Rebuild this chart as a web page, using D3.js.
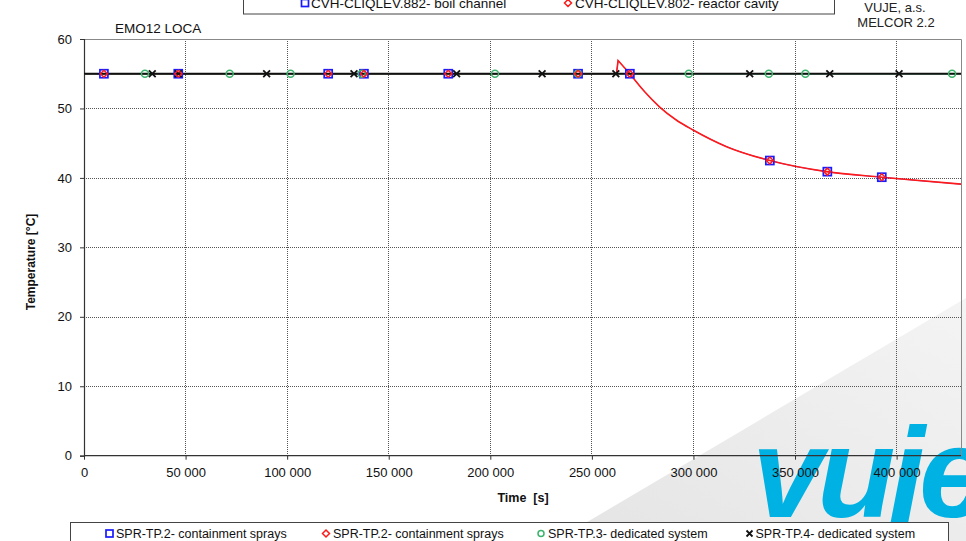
<!DOCTYPE html>
<html><head><meta charset="utf-8">
<script src="https://cdn.jsdelivr.net/npm/d3@7/dist/d3.min.js"></script>
<style>
html,body{margin:0;padding:0;background:#fff;}
svg{display:block;font-family:"Liberation Sans",Arial,Helvetica,sans-serif;}
</style></head><body>
<svg id="chart" width="966" height="541"></svg>
<script>
// ---- data -------------------------------------------------------------
const timeTicks = [0, 50000, 100000, 150000, 200000, 250000, 300000, 350000, 400000];
const tempTicks = [0, 10, 20, 30, 40, 50, 60];
const timeMax = 431700;

// SPR-TP.2 containment sprays: temperature trace [°C] over time [s]
const sprayTime = [0, 262100, 262900, 268700, 276000, 283400, 291700, 299800, 316300, 337600, 365500, 392500, 431700];
const sprayTemp = [55, 55, 56.9, 55.0, 52.4, 50.2, 48.3, 46.9, 44.5, 42.5, 40.9, 40.1, 39.1];
// marker samples of the SPR-TP.2 trace
const sprayMarkTime = [9800, 46400, 120200, 137800, 179300, 243200, 268700, 337600, 365900, 392700];
const sprayMarkTemp = [55, 55, 55, 55, 55, 55, 55, 42.5, 40.9, 40.1];

// SPR-TP.3 dedicated system
const tp3Time = [0, 431700];
const tp3Temp = [55, 55];
const tp3MarkTime = [30000, 71700, 101700, 136700, 202300, 243100, 297700, 337100, 355100, 427300];
const tp3MarkTemp = [55, 55, 55, 55, 55, 55, 55, 55, 55, 55];

// SPR-TP.4 dedicated system
const tp4Time = [0, 431700];
const tp4Temp = [55, 55];
const tp4MarkTime = [33600, 46400, 89900, 132900, 183400, 225500, 261800, 327700, 367100, 401200];
const tp4MarkTemp = [55, 55, 55, 55, 55, 55, 55, 55, 55, 55];

const topLegend = ["CVH-CLIQLEV.882- boil channel", "CVH-CLIQLEV.802- reactor cavity"];
const bottomLegend = ["SPR-TP.2- containment sprays", "SPR-TP.2- containment sprays",
                      "SPR-TP.3- dedicated system", "SPR-TP.4- dedicated system"];

// ---- layout -----------------------------------------------------------
const svg = d3.select("#chart");
const W = 966, H = 541;
const plot = {left: 84, right: 961, top: 39, bottom: 455.7};

const x = d3.scaleLinear().domain([0, timeMax]).range([plot.left, plot.right]);
const y = d3.scaleLinear().domain([0, 60]).range([plot.bottom, plot.top]);

const BLUE = "#1a1aff", RED = "#ff1a1a", GREEN = "#3cb36b", BLACK = "#111";

// ---- background sheet with corporate mark -----------------------------
const defs = svg.append("defs");
const g1 = defs.append("linearGradient").attr("id", "sheet")
  .attr("x1", "0").attr("y1", "1").attr("x2", "1").attr("y2", "0");
g1.append("stop").attr("offset", "0").attr("stop-color", "#e4e4e4");
g1.append("stop").attr("offset", "1").attr("stop-color", "#f4f4f4");
svg.append("rect").attr("width", W).attr("height", H).attr("fill", "#fff");
svg.append("path").attr("d", "M555,541 L966,298 L966,541 Z").attr("fill", "url(#sheet)");
svg.append("text").attr("x", 752).attr("y", 517)
  .attr("font-size", 128).attr("font-weight", "bold").attr("font-style", "italic")
  .attr("letter-spacing", -6).attr("fill", "#00b1e3").text("vuje");

defs.append("clipPath").attr("id", "plotClip").append("rect")
  .attr("x", plot.left).attr("y", plot.top)
  .attr("width", plot.right - plot.left).attr("height", plot.bottom - plot.top);

// ---- grid -------------------------------------------------------------
const grid = svg.append("g");
grid.selectAll("line.v").data(timeTicks.filter(t => t > 0)).join("line")
  .attr("x1", d => x(d)).attr("x2", d => x(d))
  .attr("y1", plot.top).attr("y2", plot.bottom)
  .attr("stroke", "#555").attr("stroke-width", 1).attr("stroke-dasharray", "1,1")
  .attr("shape-rendering", "crispEdges");
grid.selectAll("line.h").data(tempTicks.filter(t => t > 0 && t < 60)).join("line")
  .attr("y1", d => Math.round(y(d)) + 0.5).attr("y2", d => Math.round(y(d)) + 0.5)
  .attr("x1", plot.left).attr("x2", plot.right)
  .attr("stroke", "#555").attr("stroke-width", 1).attr("stroke-dasharray", "1,1");

// plot frame (top and right)
svg.append("path")
  .attr("d", `M${plot.left},${plot.top + 0.5} H${plot.right + 0.5} V${plot.bottom}`)
  .attr("fill", "none").attr("stroke", "#888").attr("stroke-width", 1);

// ---- axes -------------------------------------------------------------
const loc = d3.formatLocale({decimal: ".", thousands: " ", grouping: [3], currency: ["", ""]});
const fmtTime = loc.format(",");

const xAxis = svg.append("g").attr("transform", `translate(0,${plot.bottom})`)
  .call(d3.axisBottom(x).tickValues(timeTicks).tickFormat(fmtTime).tickSizeOuter(0).tickSize(4).tickPadding(8));
const yAxis = svg.append("g").attr("transform", `translate(${plot.left},0)`)
  .call(d3.axisLeft(y).tickValues(tempTicks).tickSizeOuter(0).tickSize(4).tickPadding(8));
[xAxis, yAxis].forEach(a => {
  a.select(".domain").attr("stroke", "#333").attr("stroke-width", 1.2);
  a.selectAll(".tick line").attr("stroke", "#333");
  a.selectAll(".tick text").attr("font-size", 13).attr("fill", "#111")
    .attr("font-family", "'Liberation Sans',Arial,sans-serif");
});
// x axis runs the full plot width
xAxis.select(".domain").attr("d", `M${plot.left},0H${plot.right}`);

svg.append("text").attr("x", 523).attr("y", 502).attr("text-anchor", "middle")
  .attr("font-size", 12.5).attr("font-weight", "bold").attr("fill", "#111")
  .style("white-space", "pre").text("Time  [s]");
svg.append("text").attr("transform", "translate(35,262) rotate(-90)").attr("text-anchor", "middle")
  .attr("font-size", 12).attr("font-weight", "bold").attr("fill", "#111")
  .text("Temperature [°C]");

svg.append("text").attr("x", 115).attr("y", 33).attr("font-size", 13.5).attr("fill", "#111").text("EMO12 LOCA");
svg.append("text").attr("x", 895).attr("y", 12).attr("text-anchor", "middle").attr("font-size", 13).attr("fill", "#222").text("VUJE, a.s.");
svg.append("text").attr("x", 896).attr("y", 27).attr("text-anchor", "middle").attr("font-size", 13).attr("fill", "#222").text("MELCOR 2.2");

// ---- series -----------------------------------------------------------
const zip = (a, b) => a.map((v, i) => [v, b[i]]);
const sprayPts = zip(sprayTime, sprayTemp);
const linear = d3.line().x(d => x(d[0])).y(d => y(d[1]));
const smooth = d3.line().x(d => x(d[0])).y(d => y(d[1])).curve(d3.curveMonotoneX);
// the short spike is drawn straight, the cooldown afterwards as a smooth curve
const kink = sprayTime.indexOf(268700);
const sprayPath = linear(sprayPts.slice(0, kink + 1)) + smooth(sprayPts.slice(kink)).replace(/^M/, "L");

const series = svg.append("g").attr("clip-path", "url(#plotClip)");
series.append("path").attr("d", sprayPath)
  .attr("fill", "none").attr("stroke", BLUE).attr("stroke-width", 0.8);
series.append("path").attr("d", sprayPath)
  .attr("fill", "none").attr("stroke", RED).attr("stroke-width", 1.6).attr("stroke-linejoin", "miter");
series.append("path").datum(zip(tp3Time, tp3Temp)).attr("d", linear)
  .attr("fill", "none").attr("stroke", GREEN).attr("stroke-width", 1.5);
series.append("path").datum(zip(tp4Time, tp4Temp)).attr("d", linear)
  .attr("fill", "none").attr("stroke", BLACK).attr("stroke-width", 2);

// marker symbols
function square(g, cx, cy, s) {
  g.append("rect").attr("x", cx - s / 2).attr("y", cy - s / 2).attr("width", s).attr("height", s)
    .attr("fill", "none").attr("stroke", BLUE).attr("stroke-width", 1.7);
}
function diamond(g, cx, cy, s) {
  g.append("path").attr("d", `M${cx},${cy - s}L${cx + s},${cy}L${cx},${cy + s}L${cx - s},${cy}Z`)
    .attr("fill", "none").attr("stroke", RED).attr("stroke-width", 1.5);
}
function circle(g, cx, cy, r) {
  g.append("circle").attr("cx", cx).attr("cy", cy).attr("r", r)
    .attr("fill", "none").attr("stroke", GREEN).attr("stroke-width", 1.5);
}
function cross(g, cx, cy, s) {
  g.append("path").attr("d", `M${cx - s},${cy - s}L${cx + s},${cy + s}M${cx - s},${cy + s}L${cx + s},${cy - s}`)
    .attr("stroke", BLACK).attr("stroke-width", 1.8);
}

const marks = svg.append("g");
sprayMarkTime.forEach((t, i) => square(marks, x(t), y(sprayMarkTemp[i]), 8));
tp3MarkTime.forEach((t, i) => circle(marks, x(t), y(tp3MarkTemp[i]), 3.5));
tp4MarkTime.forEach((t, i) => cross(marks, x(t), y(tp4MarkTemp[i]), 3.4));
sprayMarkTime.forEach((t, i) => diamond(marks, x(t), y(sprayMarkTemp[i]), 3.5));

// ---- legends ----------------------------------------------------------
const lgTop = svg.append("g");
lgTop.append("rect").attr("x", 243.5).attr("y", -20).attr("width", 591).attr("height", 34)
  .attr("fill", "#fff").attr("stroke", "#444").attr("stroke-width", 1);
square(lgTop, 305, 3, 7);
lgTop.append("text").attr("x", 311).attr("y", 8).attr("font-size", 13.5).attr("fill", "#111").text(topLegend[0]);
diamond(lgTop, 568, 3, 3.5);
lgTop.append("text").attr("x", 575).attr("y", 8).attr("font-size", 13.5).attr("fill", "#111").text(topLegend[1]);

const lgBot = svg.append("g");
lgBot.append("rect").attr("x", 70.5).attr("y", 522.5).attr("width", 878).attr("height", 40)
  .attr("fill", "#fff").attr("stroke", "#444").attr("stroke-width", 1);
const botX = [109.5, 326, 541, 749.5];
const botText = [116, 333, 548, 755.5];
square(lgBot, botX[0], 533.5, 7);
diamond(lgBot, botX[1], 533.5, 3.5);
circle(lgBot, botX[2], 533.5, 3);
cross(lgBot, botX[3], 533.5, 3);
bottomLegend.forEach((s, i) => {
  lgBot.append("text").attr("x", botText[i]).attr("y", 538).attr("font-size", 12.5).attr("fill", "#111").text(s);
});
</script>
</body></html>
